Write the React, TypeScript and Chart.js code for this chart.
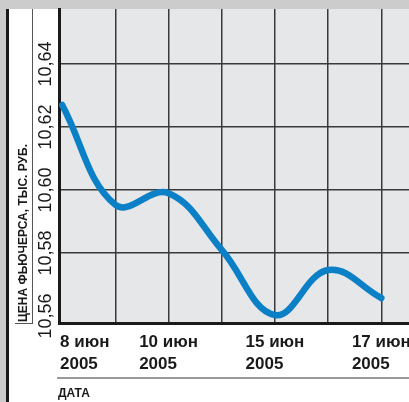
import { useEffect, useRef } from "react";
import { Chart, registerables } from "chart.js";

Chart.register(...registerables);

// Trading days (11–13 June were non-trading), prices in thousand roubles
const tradingDays = ["8 июн", "9 июн", "10 июн", "14 июн", "15 июн", "16 июн", "17 июн"];
const yearLabel = "2005";
const futuresPrice = [10.627, 10.5953, 10.599, 10.581, 10.5603, 10.5746, 10.5657];
const labeledDays = [0, 2, 4, 6];
const priceTicks = [10.56, 10.58, 10.6, 10.62, 10.64];

const yTitle = "ЦЕНА ФЬЮЧЕРСА, ТЫС. РУБ.";
const xTitle = "ДАТА";

const FONT = '"Liberation Sans", Arial, sans-serif';
const W = 409;
const H = 402;

const framePlugin = {
  id: "frame",
  beforeDraw(chart: any) {
    const { ctx, chartArea } = chart;
    ctx.save();
    ctx.fillStyle = "#ffffff";
    ctx.fillRect(0, 0, W, H);
    // top band and left strip
    ctx.fillStyle = "#cccccc";
    ctx.fillRect(0, 0, W, 9);
    ctx.fillRect(0, 0, 6, H);
    ctx.fillStyle = "#1a1a1a";
    ctx.fillRect(6, 9, 3, H - 9);
    // plot background
    ctx.fillStyle = "#e6e7e8";
    ctx.fillRect(chartArea.left, chartArea.top, chartArea.right - chartArea.left, chartArea.bottom - chartArea.top);
    // separators around the axis titles
    ctx.strokeStyle = "#555555";
    ctx.lineWidth = 1;
    ctx.beginPath();
    ctx.moveTo(32.5, 9);
    ctx.lineTo(32.5, 323.5);
    ctx.moveTo(15, 323.5);
    ctx.lineTo(33, 323.5);
    ctx.stroke();
    ctx.strokeStyle = "#999999";
    ctx.lineWidth = 2;
    ctx.beginPath();
    ctx.moveTo(57, 378);
    ctx.lineTo(W, 378);
    ctx.stroke();
    ctx.restore();
  },
  afterDraw(chart: any) {
    const { ctx, chartArea } = chart;
    const xs = chart.scales.x;
    const ys = chart.scales.y;
    ctx.save();
    ctx.fillStyle = "#1a1a1a";

    // price tick labels, rotated
    ctx.font = `18px ${FONT}`;
    ctx.textAlign = "center";
    ctx.textBaseline = "alphabetic";
    for (const v of priceTicks) {
      const py = ys.getPixelForValue(v);
      ctx.save();
      ctx.translate(51, py);
      ctx.rotate(-Math.PI / 2);
      ctx.fillText(v.toFixed(2).replace(".", ","), 0, 0);
      ctx.restore();
    }

    // y axis title
    ctx.font = `bold 12px ${FONT}`;
    ctx.textAlign = "left";
    ctx.save();
    ctx.translate(27, 322);
    ctx.rotate(-Math.PI / 2);
    ctx.fillText(yTitle, 0, 0);
    ctx.restore();

    // date labels
    ctx.font = `bold 17px ${FONT}`;
    ctx.textAlign = "left";
    for (const i of labeledDays) {
      const px = xs.getPixelForValue(i);
      const w = Math.max(ctx.measureText(tradingDays[i]).width, ctx.measureText(yearLabel).width);
      const x0 = Math.max(chartArea.left + 1, px - w / 2);
      ctx.fillText(tradingDays[i], x0, 347);
      ctx.fillText(yearLabel, x0, 369);
    }

    // x axis title
    ctx.font = `bold 12px ${FONT}`;
    ctx.fillText(xTitle, 58, 397);
    ctx.restore();
  },
};

export default function App() {
  const ref = useRef<HTMLCanvasElement>(null);

  useEffect(() => {
    document.body.style.margin = "0";
    const canvas = ref.current;
    if (!canvas) return;
    const chart = new Chart(canvas, {
      type: "line",
      data: {
        datasets: [
          {
            data: futuresPrice.map((y, i) => ({ x: i, y })),
            borderColor: "#0b80c6",
            borderWidth: 6.5,
            borderCapStyle: "round",
            borderJoinStyle: "round",
            tension: 0.4,
            pointRadius: 0,
            fill: false,
          },
        ],
      },
      options: {
        animation: false,
        responsive: false,
        devicePixelRatio: 1,
        layout: { padding: { left: 59, top: 9, right: 0, bottom: 78.5 } },
        plugins: { legend: { display: false }, tooltip: { enabled: false } },
        scales: {
          x: {
            type: "linear",
            min: -0.06,
            max: 6.52,
            afterBuildTicks: (scale: any) => {
              scale.ticks = tradingDays.map((_, i) => ({ value: i }));
            },
            ticks: { display: false },
            grid: {
              drawTicks: false,
              color: (c: any) => (c.tick && c.tick.value === 0 ? "rgba(0,0,0,0)" : "#3a3a3a"),
              lineWidth: 1.5,
            },
            border: { display: true, color: "#1a1a1a", width: 3 },
          },
          y: {
            type: "linear",
            min: 10.5576,
            max: 10.6575,
            afterBuildTicks: (scale: any) => {
              scale.ticks = priceTicks.map((v) => ({ value: v }));
            },
            ticks: { display: false },
            grid: {
              drawTicks: false,
              color: (c: any) => (c.tick && Math.abs(c.tick.value - 10.56) < 1e-6 ? "rgba(0,0,0,0)" : "#3a3a3a"),
              lineWidth: 1.5,
            },
            border: { display: true, color: "#1a1a1a", width: 3 },
          },
        },
      },
      plugins: [framePlugin],
    });
    return () => chart.destroy();
  }, []);

  return (
    <div style={{ width: W, height: H, position: "relative" }}>
      <canvas ref={ref} width={W} height={H} style={{ display: "block", width: W, height: H }} />
    </div>
  );
}
